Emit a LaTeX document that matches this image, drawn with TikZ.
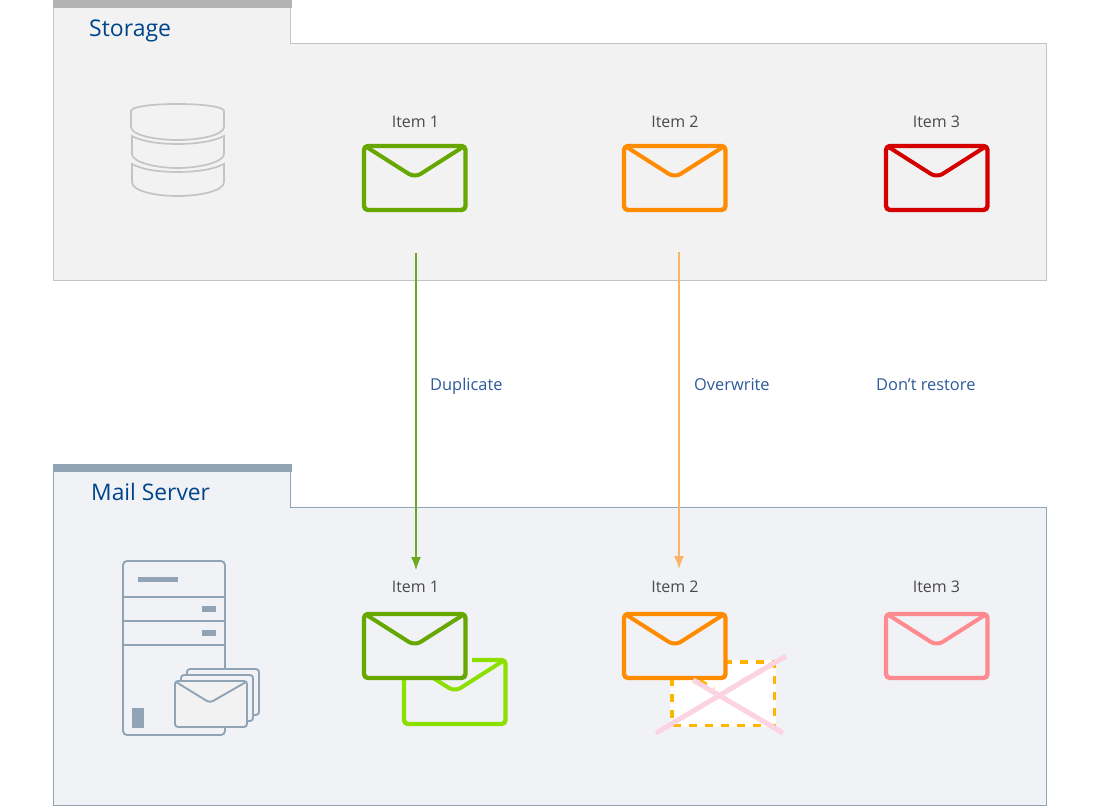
\documentclass[tikz,border=0pt]{standalone}
\usepackage{fontspec}
\usetikzlibrary{arrows.meta}
\setmainfont{Open Sans}
\definecolor{stfill}{HTML}{F2F2F3}
\definecolor{stline}{HTML}{C4C4C4}
\definecolor{stbar}{HTML}{B3B3B3}
\definecolor{msfill}{HTML}{F0F2F6}
\definecolor{msline}{HTML}{90A4B5}
\definecolor{title}{HTML}{00458A}
\definecolor{lab}{HTML}{2F5B9A}
\definecolor{itemtxt}{HTML}{4A4A4A}
\definecolor{grn}{HTML}{66A800}
\definecolor{lgrn}{HTML}{8CE000}
\definecolor{org}{HTML}{FF8C00}
\definecolor{yel}{HTML}{FFB400}
\definecolor{red1}{HTML}{D40000}
\definecolor{pnk}{HTML}{FF8A8F}
\definecolor{xpnk}{HTML}{FCD3E2}
\definecolor{arrg}{HTML}{6FA81E}
\definecolor{arro}{HTML}{F9B469}
\tikzset{
  x=1pt,y=-1pt,
  panel/.style={line width=1pt},
  titletext/.style={font=\fontsize{23}{26}\selectfont,text=title,inner sep=0pt},
  itemtext/.style={font=\fontsize{16}{19}\selectfont,text=itemtxt,inner sep=0pt},
  labeltext/.style={font=\fontsize{16.4}{19}\selectfont,text=lab,inner sep=0pt},
  conn/.style={line width=1.1pt,-{Latex[length=13pt,width=10pt]}},
  pics/envelope/.style={code={
    \draw[line width=4.4pt,#1,rounded corners=4pt,line join=round] (0,0) rectangle (101.5,64);
    \draw[line width=4pt,#1,line join=round] (1,0) -- (45,28) .. controls (48.5,30) and (53,30) .. (56.5,28) -- (100.5,0);
  }}
}
\begin{document}
\begin{tikzpicture}
\useasboundingbox (0,0) rectangle (1100,810);
\fill[white] (0,0) rectangle (1100,810);
% Storage panel
\draw[panel,draw=stline,fill=stfill] (53.5,0) -- (290.5,0) -- (290.5,43.5) -- (1046.5,43.5) -- (1046.5,280.5) -- (53.5,280.5) -- cycle;
\fill[stbar] (53,0) rectangle (291.5,8);
\node[titletext,anchor=base west] (storage) at (89,37) {Storage};
% database icon
\draw[stline,line width=1.7pt] (131,111) .. controls (131,107) and (150,104) .. (177.5,104) .. controls (205,104) and (224,107) .. (224,111) -- (224,127) .. controls (224,135) and (200,140) .. (177.5,140) .. controls (155,140) and (131,135) .. (131,127) -- cycle;
\draw[stline,line width=1.7pt] (132,136) -- (132,154) .. controls (132,162) and (155,168) .. (177.5,168) .. controls (200,168) and (224,162) .. (224,154) -- (224,136) .. controls (214,141) and (198,144) .. (177.5,144) .. controls (157,144) and (141,141) .. (132,136) -- cycle;
\draw[stline,line width=1.7pt] (132,164) -- (132,182) .. controls (132,191) and (155,196) .. (177.5,196) .. controls (200,196) and (224,191) .. (224,182) -- (224,164) .. controls (214,169) and (198,172) .. (177.5,172) .. controls (157,172) and (141,169) .. (132,164) -- cycle;
% Storage items
\node[itemtext] (s1) at (415.5,122) {Item 1};
\node[itemtext] (s2) at (675,122) {Item 2};
\node[itemtext] (s3) at (936.5,122) {Item 3};
\pic at (364,146) {envelope=grn};
\pic at (624,146) {envelope=org};
\pic at (886,146) {envelope=red1};
% Mail server panel
\draw[panel,draw=msline,fill=msfill] (53.5,464) -- (290.5,464) -- (290.5,507.5) -- (1046.5,507.5) -- (1046.5,805) -- (53.5,805) -- cycle;
\fill[msline] (53,464) rectangle (291.5,472);
\node[titletext,anchor=base west,font=\fontsize{22.8}{26}\selectfont] (mail) at (91,500) {Mail Server};
% server icon
\draw[msline,line width=1.9pt,rounded corners=4pt] (123,561) rectangle (225,735);
\draw[msline,line width=1.9pt] (123,597) -- (225,597) (123,621) -- (225,621) (123,645) -- (225,645);
\fill[msline] (138,576.5) rectangle (178,581.5);
\fill[msline] (202,606) rectangle (216,612);
\fill[msline] (202,630) rectangle (216,636);
\fill[msline] (132,708) rectangle (144,728);
\draw[msline,line width=1.9pt,rounded corners=3pt,fill=msfill] (187,669) rectangle (259,715);
\draw[msline,line width=1.9pt,rounded corners=3pt,fill=msfill] (181,675) rectangle (253,721);
\draw[msline,line width=1.9pt,rounded corners=3pt,fill=stfill] (175,681) rectangle (247,727);
\draw[msline,line width=1.9pt,line join=round] (176,682) -- (207,701) .. controls (209,702) and (211,702) .. (213,701) -- (246,682);
% Mail server items
\node[itemtext] (m1) at (415.5,587) {Item 1};
\node[itemtext] (m2) at (675,587) {Item 2};
\node[itemtext] (m3) at (936.5,587) {Item 3};
% restored copies
\pic at (404,660) {envelope=lgrn};
\fill[msfill] (362,612) rectangle (472,665);
\fill[msfill] (362,612) rectangle (467,680);
\pic at (364,614) {envelope=grn};
\fill[white] (670,660) rectangle (776,727);
\draw[yel,line width=3.6pt,dash pattern=on 8pt off 8pt,line join=round] (672,662) rectangle (774.5,725.5);
\draw[yel,line width=3pt,dash pattern=on 8pt off 8pt] (700,680) -- (714,689) (727,690) -- (774,662);
\fill[msfill] (626,616) rectangle (725,676);
\pic at (624,614) {envelope=org};
\draw[xpnk,line width=5pt] (656,733) -- (786,656);
\draw[xpnk,line width=5pt] (693,680) -- (783,733);
\pic at (886,614) {envelope=pnk};
% connectors
\coordinate (a1) at (416,253);
\coordinate (a2) at (679,252);
\coordinate (b1) at (416,570);
\coordinate (b2) at (679,569);
\draw[conn,draw=arrg,fill=arrg] (a1) -- (b1);
\draw[conn,draw=arro,fill=arro] (a2) -- (b2);
\node[labeltext,anchor=base west] (l1) at (430,390) {Duplicate};
\node[labeltext,anchor=base west] (l2) at (694,390) {Overwrite};
\node[labeltext,anchor=base west] (l3) at (876,390) {Don’t restore};
\end{tikzpicture}
\end{document}
